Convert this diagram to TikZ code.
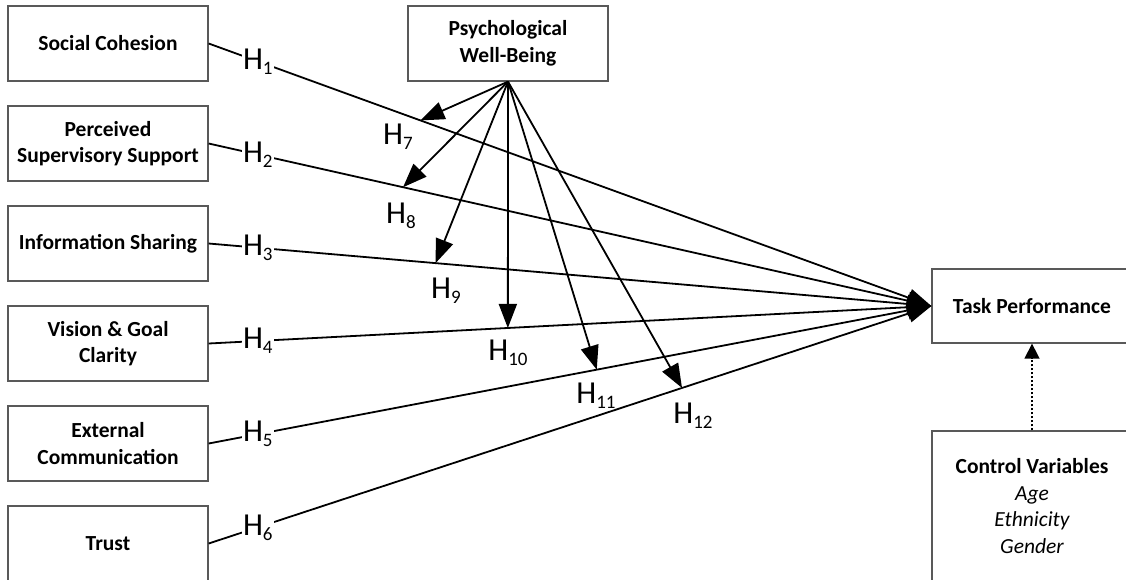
\documentclass[tikz,border=0pt]{standalone}
\usepackage{fontspec}
\setmainfont{Carlito}
\usetikzlibrary{arrows.meta}
\newcommand\hyp[1]{H\raisebox{-5pt}{\fontsize{19}{19}\selectfont #1}}
\begin{document}
\begin{tikzpicture}[x=1pt,y=-1pt,
  box/.style={draw=black!65, line width=1.3pt, fill=white, align=center,
    font=\fontsize{21.5}{26.5}\selectfont\bfseries, inner sep=0pt,
    minimum width=200pt, minimum height=75pt},
  conn/.style={line width=1.8pt, -{Triangle[length=24pt,width=18pt]}},
  hl/.style={fill=white, inner sep=1pt, font=\fontsize{32}{32}\selectfont},
  ctrl/.style={line width=1.5pt, dash pattern=on 2pt off 2pt, -{Triangle[length=15pt,width=15pt]}}
]
\useasboundingbox (0,0) rectangle (1126,579);
\clip (0,0) rectangle (1126,579);
\fill[white] (0,0) rectangle (1126,579);
% boxes
\node[box] (sc) at (108,43.5) {Social Cohesion};
\node[box] (ps) at (108,143.5) {Perceived\\Supervisory Support};
\node[box] (is) at (108,243.5) {Information Sharing};
\node[box] (vg) at (108,343.5) {Vision \& Goal\\Clarity};
\node[box] (ec) at (108,443.5) {External\\Communication};
\node[box] (tr) at (108,543.5) {Trust};
\node[box] (pw) at (508,43.5) {Psychological\\Well-Being};
\node[box, minimum height=74pt] (tp) at (1032,306) {Task Performance};
\node[box, minimum height=150pt] (cv) at (1032,506) {Control Variables\\{\mdseries\itshape Age}\\{\mdseries\itshape Ethnicity}\\{\mdseries\itshape Gender}};
% main paths
\draw[conn] (sc.east) -- node[hl,pos=0.068] {\hyp{1}} coordinate[pos=0.293] (p7) (tp.west);
\draw[conn] (ps.east) -- node[hl,pos=0.068] {\hyp{2}} coordinate[pos=0.269] (p8) (tp.west);
\draw[conn] (is.east) -- node[hl,pos=0.068] {\hyp{3}} coordinate[pos=0.314] (p9) (tp.west);
\draw[conn] (vg.east) -- node[hl,pos=0.068] {\hyp{4}} coordinate[pos=0.414] (p10) (tp.west);
\draw[conn] (ec.east) -- node[hl,pos=0.068] {\hyp{5}} coordinate[pos=0.537] (p11) (tp.west);
\draw[conn] (tr.east) -- node[hl,pos=0.068] {\hyp{6}} coordinate[pos=0.655] (p12) (tp.west);
% moderation arrows
\draw[conn] (pw.south) -- (p7);
\draw[conn] (pw.south) -- (p8);
\draw[conn] (pw.south) -- (p9);
\draw[conn] (pw.south) -- (p10);
\draw[conn] (pw.south) -- (p11);
\draw[conn] (pw.south) -- (p12);
% moderation labels
\node[font=\fontsize{32}{32}\selectfont, inner sep=0pt] (h7) at (398,137) {\hyp{7}};
\node[font=\fontsize{32}{32}\selectfont, inner sep=0pt] (h8) at (401,216) {\hyp{8}};
\node[font=\fontsize{32}{32}\selectfont, inner sep=0pt] (h9) at (446,291) {\hyp{9}};
\node[font=\fontsize{32}{32}\selectfont, inner sep=0pt] (h10) at (508,353) {\hyp{10}};
\node[font=\fontsize{32}{32}\selectfont, inner sep=0pt] (h11) at (596,396) {\hyp{11}};
\node[font=\fontsize{32}{32}\selectfont, inner sep=0pt] (h12) at (693,416) {\hyp{12}};
% control
\draw[ctrl] (cv.north) -- (tp.south);
\end{tikzpicture}
\end{document}
